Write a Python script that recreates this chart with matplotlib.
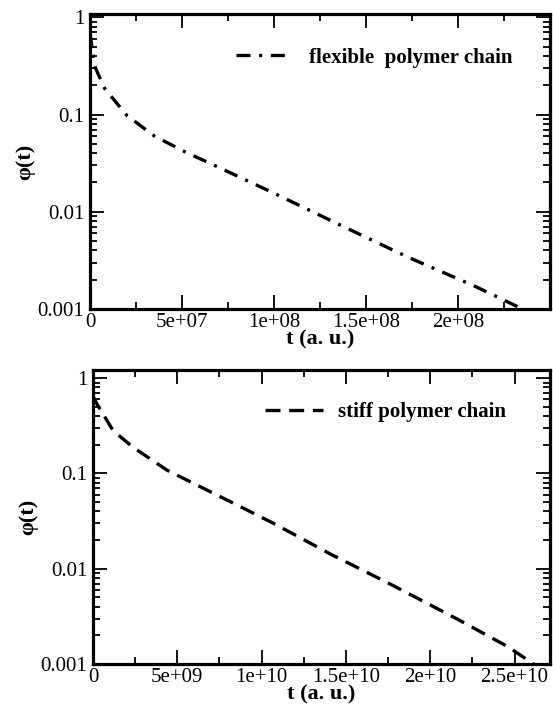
import numpy as np
import matplotlib
matplotlib.use('Agg')
import matplotlib.pyplot as plt
from matplotlib.ticker import FixedLocator, LogLocator, NullFormatter

plt.rcParams['font.family'] = ['Liberation Serif', 'DejaVu Serif']

# flexible chain (top panel)
t_flex = [0, 1e6, 3e6, 8e6, 2e7, 3.5e7, 5.2e7, 7e7, 1e8, 1.38e8, 1.73e8, 2.09e8, 2.36e8]
phi_flex = [0.7, 0.5, 0.3, 0.185, 0.098, 0.060, 0.041, 0.0286, 0.0155, 0.0070, 0.0034, 0.00172, 0.00098]

# stiff chain (bottom panel)
t_stiff = [0, 2e8, 1.2e9, 2.4e9, 4.4e9, 6.4e9, 8.4e9, 1.07e10, 1.41e10, 1.77e10, 2.17e10, 2.46e10, 2.62e10]
phi_stiff = [0.65, 0.55, 0.28, 0.187, 0.108, 0.072, 0.048, 0.030, 0.0142, 0.0068, 0.0029, 0.00152, 0.00098]

x_ticks_top = [0, 5e7, 1e8, 1.5e8, 2e8]
x_labels_top = ['0', '5e+07', '1e+08', '1.5e+08', '2e+08']
x_ticks_bot = [0, 5e9, 1e10, 1.5e10, 2e10, 2.5e10]
x_labels_bot = ['0', '5e+09', '1e+10', '1.5e+10', '2e+10', '2.5e+10']
y_ticks = [0.001, 0.01, 0.1, 1]
y_labels = ['0.001', '0.01', '0.1', '1']

fig = plt.figure(figsize=(5.53, 7.14), dpi=100)
ax1 = fig.add_axes([0.1627, 0.5672, 0.832, 0.4132])
ax2 = fig.add_axes([0.1682, 0.07, 0.8264, 0.4118])


def style(ax, xt, xl, xmax, ymax):
    ax.set_yscale('log')
    ax.set_xlim(0, xmax)
    ax.set_ylim(0.001, ymax)
    ax.xaxis.set_major_locator(FixedLocator(xt))
    ax.set_xticklabels(xl)
    step = xt[1] - xt[0]
    ax.xaxis.set_minor_locator(FixedLocator(np.arange(step / 2, xmax, step)))
    ax.yaxis.set_major_locator(FixedLocator(y_ticks))
    ax.set_yticklabels(y_labels)
    ax.yaxis.set_minor_locator(LogLocator(base=10, subs=np.arange(2, 10)))
    ax.yaxis.set_minor_formatter(NullFormatter())
    ax.tick_params(which='both', direction='in', top=True, right=True, width=1.3, labelsize=15)
    ax.tick_params(which='major', length=10)
    ax.tick_params(axis='x', which='major', pad=3)
    ax.tick_params(axis='y', which='major', pad=4)
    ax.tick_params(which='minor', length=5)
    for s in ax.spines.values():
        s.set_linewidth(2.3)
    ax.set_xlabel('t (a. u.)', fontsize=16, fontweight='bold', labelpad=-2)
    ax.set_ylabel('\u03c6(t)', fontsize=16, fontweight='bold', labelpad=2)


style(ax1, x_ticks_top, x_labels_top, 2.5e8, 1.08)
style(ax2, x_ticks_bot, x_labels_bot, 2.71e10, 1.22)

l1, = ax1.plot(t_flex, phi_flex, color='black', lw=2.4, label='flexible  polymer chain')
l1.set_dashes([4.2, 2.6, 0.9, 2.6])
l1.set_dash_capstyle('butt')
l2, = ax2.plot(t_stiff, phi_stiff, color='black', lw=2.4, label='stiff polymer chain')
l2.set_dashes([4.5, 2.6])
l2.set_dash_capstyle('butt')

ax1.legend(loc='center right', bbox_to_anchor=(0.96, 0.852), frameon=False,
           prop={'weight': 'bold', 'size': 15}, handlelength=2.7, handletextpad=0.8)
ax2.legend(loc='center right', bbox_to_anchor=(0.944, 0.857), frameon=False,
           prop={'weight': 'bold', 'size': 15}, handlelength=2.8, handletextpad=0.7)

fig.savefig('out.png', dpi=100)
